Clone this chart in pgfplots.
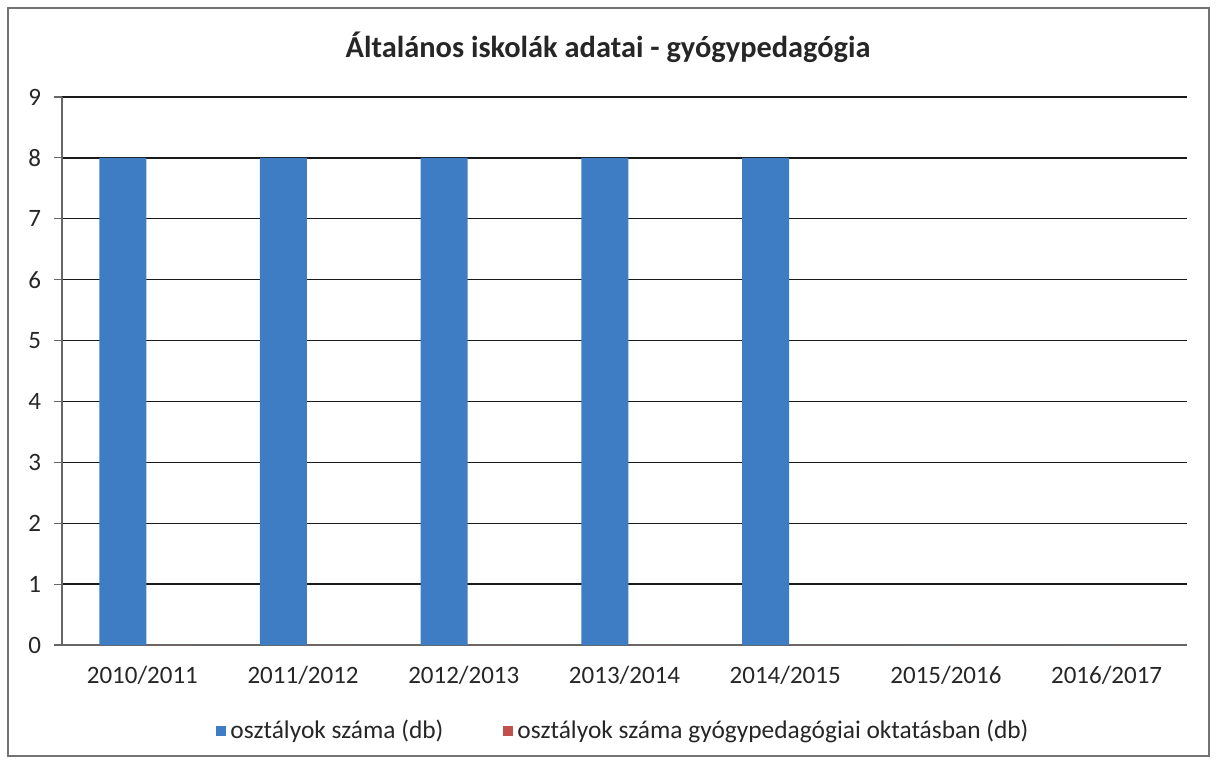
\documentclass[border=0pt]{standalone}
\usepackage{pgfplots}
\pgfplotsset{compat=1.18}
\usepackage{fontspec}
\setmainfont{Carlito}
\definecolor{bblue}{RGB}{62,124,195}
\definecolor{bred}{RGB}{192,80,77}
\begin{document}
\begin{tikzpicture}
\path[use as bounding box] (0,0) rectangle (608pt,-382pt);
\draw[black!55, line width=0.6pt] (4pt,-4pt) rectangle (604.5pt,-378pt);
\node[font=\fontsize{15.2}{18}\selectfont\bfseries, text=black!85] at (304pt,-23.5pt) {Általános iskolák adatai - gyógypedagógia};
\begin{axis}[
  at={(31pt,-322.5pt)}, anchor=south west,
  scale only axis, width=562.5pt, height=274pt,
  ybar, bar width=23.5pt,
  xmin=-0.5, xmax=6.5, ymin=0, ymax=9,
  ytick={0,...,9},
  xtick={0,...,6},
  xticklabels={2010/2011,2011/2012,2012/2013,2013/2014,2014/2015,2015/2016,2016/2017},
  x tick style={draw=none},
  extra x ticks={-0.5,0.5,1.5,2.5,3.5,4.5,5.5,6.5},
  extra x tick labels={},
  extra x tick style={tick style={draw=black!60, line width=0.6pt}, major tick length=4pt, tick align=outside, grid=none},
  axis x line*=bottom, axis y line*=left,
  axis line style={black!60, line width=0.6pt, -},
  ymajorgrids, major grid style={black!90, line width=0.65pt},
  y tick style={draw=black!60, line width=0.6pt},
  major tick length=4pt, tick align=outside,
  /pgf/number format/assume math mode=true,
  tick label style={font=\fontsize{12.5}{14}\selectfont, text=black!85},
  yticklabel style={xshift=-3pt},
  xticklabel style={yshift=-3pt},
  legend style={at={(0.5,-0.157)}, anchor=center, draw=none, fill=none, legend columns=2,
    font=\fontsize{12.7}{14}\selectfont, text=black!85,
    /tikz/every even column/.append style={column sep=28pt}},
  legend image code/.code={\fill[#1] (0pt,-2.5pt) rectangle (5pt,2.5pt);},
  legend cell align=left,
]
\addplot[fill=bblue, draw=none, bar shift=-9.8pt] coordinates {(0,8) (1,8) (2,8) (3,8) (4,8) (5,0) (6,0)};
\addplot[fill=bred, draw=none, bar shift=13.7pt] coordinates {(0,0) (1,0) (2,0) (3,0) (4,0) (5,0) (6,0)};
\legend{osztályok száma (db), osztályok száma gyógypedagógiai oktatásban (db)}
\end{axis}
\end{tikzpicture}
\end{document}
